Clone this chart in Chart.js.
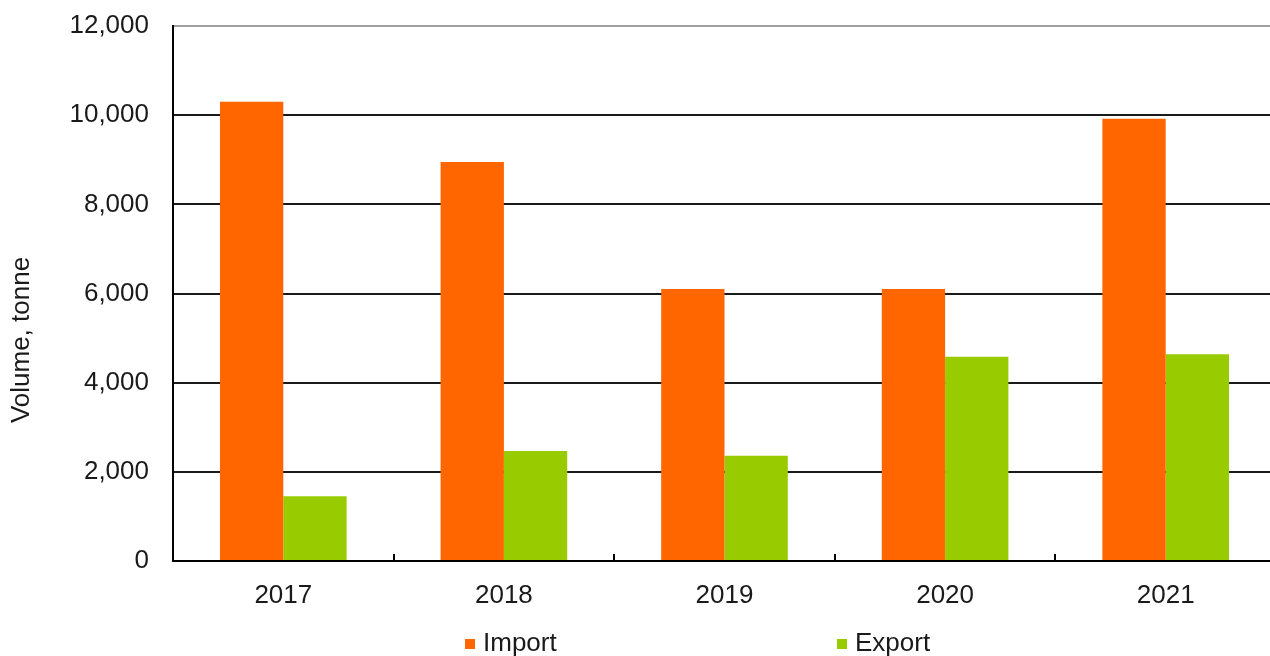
<!DOCTYPE html>
<html>
<head>
<meta charset="utf-8">
<script src="https://cdn.jsdelivr.net/npm/chart.js@4/dist/chart.umd.min.js"></script>
<style>
  html, body { margin: 0; padding: 0; background: #ffffff; overflow: hidden; }
  #wrap { width: 1290px; height: 656px; }
</style>
</head>
<body>
<div id="wrap"><canvas id="chart" width="1290" height="656"></canvas></div>
<script>
// Annual trade volumes
const years = ['2017', '2018', '2019', '2020', '2021'];
const importVolume = [10300, 8950, 6100, 6100, 9920];
const exportVolume = [1450, 2470, 2360, 4580, 4640];
const seriesNames = ['Import', 'Export'];
const yAxisTitle = 'Volume, tonne';

const FONT = '"Liberation Sans", Arial, sans-serif';
const TEXT = '#1a1a1a';
const FONT_SIZE = 26;

// Draws the rotated axis caption and the spaced-out legend under the plot
const overlay = {
  id: 'overlay',
  afterDraw(chart, args, opts) {
    const ctx = chart.ctx;
    ctx.save();
    ctx.fillStyle = TEXT;
    ctx.font = opts.fontSize + 'px ' + FONT;
    ctx.translate(opts.titleX, opts.titleY);
    ctx.rotate(-Math.PI / 2);
    ctx.textAlign = 'center';
    ctx.textBaseline = 'middle';
    ctx.fillText(yAxisTitle, 0, 0);
    ctx.restore();

    ctx.save();
    ctx.font = opts.fontSize + 'px ' + FONT;
    ctx.textAlign = 'left';
    ctx.textBaseline = 'middle';
    chart.data.datasets.forEach((ds, i) => {
      const x = opts.legendX[i];
      ctx.fillStyle = ds.backgroundColor;
      ctx.fillRect(x, opts.legendY - opts.box / 2, opts.box, opts.box);
      ctx.fillStyle = TEXT;
      ctx.fillText(ds.label, x + opts.box + opts.gap, opts.legendY);
    });
    ctx.restore();
  }
};

new Chart(document.getElementById('chart'), {
  type: 'bar',
  data: {
    labels: years,
    datasets: [
      { label: seriesNames[0], data: importVolume, backgroundColor: '#ff6600' },
      { label: seriesNames[1], data: exportVolume, backgroundColor: '#99cc00' }
    ]
  },
  options: {
    responsive: false,
    animation: false,
    devicePixelRatio: 1,
    datasets: { bar: { categoryPercentage: 0.574, barPercentage: 1.0 } },
    layout: { padding: { top: 26, right: 14, left: 0, bottom: 0 } },
    plugins: {
      legend: { display: false },
      tooltip: { enabled: false },
      overlay: {
        fontSize: FONT_SIZE,
        titleX: 22, titleY: 340,
        legendX: [465, 837], legendY: 644, box: 10, gap: 8
      }
    },
    scales: {
      x: {
        grid: { display: true, offset: true, drawOnChartArea: false, drawTicks: true, tickLength: -7, color: '#000', lineWidth: 2 },
        border: { display: true, color: '#000', width: 2 },
        ticks: { color: TEXT, font: { family: FONT, size: FONT_SIZE }, padding: 26, maxRotation: 0 },
        afterFit(scale) { scale.height = 95; }
      },
      y: {
        min: 0, max: 12000,
        grid: {
          drawTicks: false,
          color: (c) => (c.tick && c.tick.value === 12000 ? '#a0a0a0' : '#1a1a1a'),
          lineWidth: 2
        },
        border: { display: true, color: '#000', width: 2 },
        ticks: {
          stepSize: 2000, padding: 24, color: TEXT,
          font: { family: FONT, size: FONT_SIZE },
          callback: (v) => v.toLocaleString('en-US')
        },
        afterFit(scale) {
          scale.width = 173;
          scale.paddingTop = 0;
          scale.paddingBottom = 0;
        }
      }
    }
  },
  plugins: [overlay]
});
</script>
</body>
</html>
